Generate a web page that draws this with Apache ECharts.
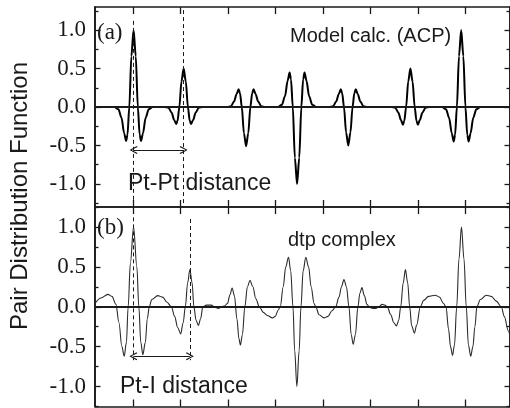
<!DOCTYPE html>
<html>
<head>
<meta charset="utf-8">
<script src="https://cdn.jsdelivr.net/npm/echarts@6/dist/echarts.min.js"></script>
<style>
  html, body { margin: 0; padding: 0; background: #fff; }
  #chart { width: 510px; height: 408px; }
</style>
</head>
<body>
<div id="chart"></div>
<script>
// Shared r axis (arbitrary units, one tick per unit)
const X_MIN = 0.203;
const X_MAX = 8.94;
const xTicks = [1, 2, 3, 4, 5, 6, 7, 8];
const yMajor = [-1, -0.5, 0, 0.5, 1];
const yMinor = [-1.25, -0.75, -0.25, 0.25, 0.75, 1.25];

// (a) Model calc. (ACP)
const rTop = [
  0.203,
  0.615, 0.696, 0.761, 0.816, 0.858, 0.887, 0.925, 0.969, 1.015, 1.061, 1.105, 1.143, 1.172, 1.214, 1.269, 1.334, 1.415,
  1.669, 1.750, 1.815, 1.870, 1.912, 1.941, 1.979, 2.023, 2.069, 2.115, 2.159, 2.197, 2.226, 2.268, 2.323, 2.388, 2.469,
  2.984, 3.065, 3.130, 3.185, 3.227, 3.256, 3.294, 3.338, 3.384, 3.430, 3.474, 3.512, 3.541, 3.583, 3.638, 3.703, 3.784,
  4.057, 4.138, 4.203, 4.258, 4.300, 4.329, 4.367, 4.411, 4.457, 4.503, 4.547, 4.585, 4.614, 4.656, 4.711, 4.776, 4.857,
  5.135, 5.216, 5.281, 5.336, 5.378, 5.407, 5.445, 5.489, 5.535, 5.581, 5.625, 5.663, 5.692, 5.734, 5.789, 5.854, 5.935,
  6.443, 6.524, 6.589, 6.644, 6.686, 6.715, 6.753, 6.797, 6.843, 6.889, 6.933, 6.971, 7.000, 7.042, 7.097, 7.162, 7.243,
  7.512, 7.593, 7.658, 7.713, 7.755, 7.784, 7.822, 7.866, 7.912, 7.958, 8.002, 8.040, 8.069, 8.111, 8.166, 8.231, 8.312,
  8.94
];
const gTop = [
  0,
  0, -0.03, -0.14, -0.34, -0.44, -0.36, 0, 0.66, 1.0, 0.66, 0, -0.36, -0.44, -0.34, -0.14, -0.03, 0,
  0, -0.01, -0.07, -0.17, -0.22, -0.18, 0, 0.33, 0.50, 0.33, 0, -0.18, -0.22, -0.17, -0.07, -0.01, 0,
  0, 0.01, 0.07, 0.17, 0.23, 0.18, 0, -0.34, -0.51, -0.34, 0, 0.18, 0.23, 0.17, 0.07, 0.01, 0,
  0, 0.03, 0.14, 0.34, 0.45, 0.36, 0, -0.66, -1.0, -0.66, 0, 0.36, 0.45, 0.34, 0.14, 0.03, 0,
  0, 0.01, 0.07, 0.17, 0.23, 0.18, 0, -0.33, -0.50, -0.33, 0, 0.18, 0.23, 0.17, 0.07, 0.01, 0,
  0, -0.01, -0.07, -0.17, -0.23, -0.18, 0, 0.33, 0.50, 0.33, 0, -0.18, -0.23, -0.17, -0.07, -0.01, 0,
  0, -0.03, -0.14, -0.34, -0.45, -0.36, 0, 0.66, 1.0, 0.66, 0, -0.36, -0.45, -0.34, -0.14, -0.03, 0,
  0
];

// (b) dtp complex
const rBottom = [
  0.203, 0.329, 0.476, 0.560, 0.644, 0.707, 0.769, 0.818, 0.864, 0.901,
  0.948, 1.015, 1.084, 1.126, 1.168, 1.210, 1.262, 1.304, 1.346, 1.398,
  1.524, 1.629, 1.713, 1.811, 1.880, 1.943, 2.006, 2.059, 2.105, 2.153,
  2.201, 2.247, 2.285, 2.331, 2.379, 2.426, 2.474, 2.551, 2.650, 2.740,
  2.803, 2.866, 2.929, 2.992, 3.044, 3.090, 3.138, 3.191, 3.233, 3.264,
  3.306, 3.358, 3.411, 3.467, 3.526, 3.589, 3.662, 3.746, 3.830, 3.941,
  3.998, 4.061, 4.103, 4.166, 4.218, 4.277, 4.323, 4.371, 4.407, 4.453,
  4.501, 4.539, 4.585, 4.641, 4.700, 4.753, 4.815, 4.851, 4.920, 5.025,
  5.109, 5.193, 5.270, 5.340, 5.392, 5.444, 5.497, 5.549, 5.597, 5.639,
  5.685, 5.738, 5.780, 5.822, 5.874, 5.927, 5.989, 6.052, 6.115, 6.178,
  6.247, 6.304, 6.356, 6.430, 6.493, 6.549, 6.597, 6.639, 6.692, 6.738,
  6.786, 6.828, 6.870, 6.927, 6.975, 7.052, 7.121, 7.226, 7.367, 7.457,
  7.541, 7.593, 7.646, 7.688, 7.730, 7.771, 7.818, 7.866, 7.918, 7.971,
  8.019, 8.065, 8.113, 8.159, 8.201, 8.243, 8.316, 8.442, 8.547, 8.652,
  8.757, 8.820, 8.903, 8.94
];
const gBottom = [
  0.04, 0.11, 0.155, 0.13, 0.03, -0.2, -0.5, -0.62, -0.45, 0.0,
  0.55, 1.0, 0.5, 0.0, -0.45, -0.60, -0.45, -0.15, 0.0, 0.09,
  0.14, 0.12, 0.06, 0.0, -0.12, -0.26, -0.34, -0.2, 0.0, 0.3,
  0.465, 0.3, 0.0, -0.17, -0.235, -0.15, 0.0, 0.02, 0.02, -0.01,
  -0.02, 0.0, 0.01, 0.04, 0.15, 0.235, 0.14, -0.15, -0.4, -0.48,
  -0.35, 0.0, 0.25, 0.33, 0.25, 0.1, 0.0, -0.07, -0.11, -0.14,
  -0.12, -0.04, 0.0, 0.25, 0.5, 0.62, 0.45, 0.0, -0.55, -1.0,
  -0.55, 0.0, 0.45, 0.62, 0.5, 0.25, 0.04, 0.0, -0.1, -0.14,
  -0.12, -0.05, 0.0, 0.12, 0.25, 0.34, 0.25, 0.0, -0.35, -0.47,
  -0.35, 0.0, 0.17, 0.24, 0.14, 0.03, -0.01, -0.02, -0.02, 0.0,
  0.03, 0.02, 0.0, -0.1, -0.2, -0.24, -0.17, 0.0, 0.3, 0.465,
  0.3, 0.0, -0.24, -0.33, -0.23, 0.0, 0.08, 0.13, 0.145, 0.12,
  0.04, 0.0, -0.28, -0.5, -0.61, -0.48, 0.0, 0.6, 1.0, 0.6,
  0.0, -0.48, -0.62, -0.5, -0.25, 0.0, 0.09, 0.145, 0.13, 0.07,
  0.0, -0.12, -0.3, -0.37
];

// Distance markers: peak positions, arrow level, dashed-line extents
const ptPt = { from: 1.015, to: 2.069, arrowY: -0.56, topA: 1.12, topB: 1.26, bottom: -1.3 };
const ptI  = { from: 1.01,  to: 2.201, arrowY: -0.62, topA: 1.12, topB: 1.10, bottom: -0.67 };

const INK = '#1a1a1a';
const AXIS_LINE = { show: true, onZero: false, lineStyle: { color: INK, width: 1.6 } };
const CHEVRON = 'path://M5,0 L10,9 L8.8,10 L5,2.6 L1.2,10 L0,9 Z';

function xAxisFor(gridIndex, position) {
  return {
    type: 'value', gridIndex, position, min: X_MIN, max: X_MAX,
    axisLine: AXIS_LINE,
    axisTick: { show: true, inside: true, length: 7, customValues: xTicks, lineStyle: { color: INK, width: 1.3 } },
    axisLabel: { show: false },
    splitLine: { show: false }
  };
}

function yAxisFor(gridIndex, position, range, minor, labels) {
  return {
    type: 'value', gridIndex, position, min: range[0], max: range[1],
    axisLine: AXIS_LINE,
    axisTick: {
      show: true, inside: true, length: minor ? 3.5 : 5.5,
      customValues: minor ? yMinor : yMajor,
      lineStyle: { color: INK, width: 1.3 }
    },
    axisLabel: labels ? {
      show: true, customValues: yMajor, margin: 9,
      formatter: v => v.toFixed(1),
      fontFamily: 'Liberation Serif', fontSize: 23, color: INK
    } : { show: false },
    splitLine: { show: false }
  };
}

function markerLines(m) {
  const dash = { type: [4, 3], width: 1, color: INK };
  return [
    [{ coord: [m.from, m.topA], lineStyle: dash }, { coord: [m.from, m.bottom] }],
    [{ coord: [m.to, m.topB], lineStyle: dash }, { coord: [m.to, m.bottom] }],
    [
      { coord: [m.from, m.arrowY], symbol: CHEVRON, symbolSize: [8, 8], lineStyle: { type: 'solid', width: 1.1, color: INK } },
      { coord: [m.to, m.arrowY], symbol: CHEVRON, symbolSize: [8, 8] }
    ]
  ];
}

function zeroAndMarkers(m) {
  return {
    silent: true,
    symbol: 'none',
    label: { show: false },
    emphasis: { disabled: true },
    lineStyle: { type: 'solid', color: INK, width: 1.8 },
    data: [{ yAxis: 0 }].concat(markerLines(m))
  };
}

const rangeTop = [-1.3, 1.3];
const rangeBottom = [-1.25, 1.25];

const textFont = (size, family) => size + 'px "' + family + '"';

const option = {
  animation: false,
  backgroundColor: '#fff',
  grid: [
    { left: 95, top: 7, width: 417, height: 200 },
    { left: 95, top: 207, width: 417, height: 199.5 }
  ],
  xAxis: [
    xAxisFor(0, 'bottom'), xAxisFor(0, 'top'),
    xAxisFor(1, 'bottom'), xAxisFor(1, 'top')
  ],
  yAxis: [
    yAxisFor(0, 'left', rangeTop, false, true),
    yAxisFor(0, 'left', rangeTop, true, false),
    yAxisFor(0, 'right', rangeTop, false, false),
    yAxisFor(0, 'right', rangeTop, true, false),
    yAxisFor(1, 'left', rangeBottom, false, true),
    yAxisFor(1, 'left', rangeBottom, true, false),
    yAxisFor(1, 'right', rangeBottom, false, false),
    yAxisFor(1, 'right', rangeBottom, true, false)
  ],
  series: [
    {
      name: 'Model calc. (ACP)',
      type: 'line', xAxisIndex: 0, yAxisIndex: 0,
      data: rTop.map((r, i) => [r, gTop[i]]),
      smooth: 0.3, smoothMonotone: 'x',
      showSymbol: false, symbol: 'none',
      lineStyle: { color: '#000', width: 2 },
      markLine: zeroAndMarkers(ptPt)
    },
    {
      name: 'dtp complex',
      type: 'line', xAxisIndex: 2, yAxisIndex: 4,
      data: rBottom.map((r, i) => [r, gBottom[i]]),
      smooth: 0.35, smoothMonotone: 'x',
      showSymbol: false, symbol: 'none',
      lineStyle: { color: '#2a2a2a', width: 1.1 },
      markLine: zeroAndMarkers(ptI)
    }
  ],
  graphic: [
    { type: 'text', x: 20, y: 196, rotation: Math.PI / 2,
      style: { text: 'Pair Distribution Function', font: textFont(24, 'Liberation Sans'), fill: INK, textAlign: 'center', textVerticalAlign: 'middle' } },
    { type: 'text', x: 97, y: 33,
      style: { text: '(a)', font: textFont(23, 'Liberation Serif'), fill: INK, textAlign: 'left', textVerticalAlign: 'middle' } },
    { type: 'text', x: 97, y: 228,
      style: { text: '(b)', font: textFont(23, 'Liberation Serif'), fill: INK, textAlign: 'left', textVerticalAlign: 'middle' } },
    { type: 'text', x: 290, y: 36,
      style: { text: 'Model calc. (ACP)', font: textFont(20, 'Liberation Sans'), fill: INK, textAlign: 'left', textVerticalAlign: 'middle' } },
    { type: 'text', x: 288, y: 240,
      style: { text: 'dtp complex', font: textFont(20, 'Liberation Sans'), fill: INK, textAlign: 'left', textVerticalAlign: 'middle' } },
    { type: 'text', x: 128, y: 184,
      style: { text: 'Pt-Pt distance', font: textFont(23, 'Liberation Sans'), fill: INK, textAlign: 'left', textVerticalAlign: 'middle' } },
    { type: 'text', x: 120, y: 387,
      style: { text: 'Pt-I distance', font: textFont(23, 'Liberation Sans'), fill: INK, textAlign: 'left', textVerticalAlign: 'middle' } }
  ]
};

const chart = echarts.init(document.getElementById('chart'), null, { renderer: 'canvas' });
chart.setOption(option);
</script>
</body>
</html>
